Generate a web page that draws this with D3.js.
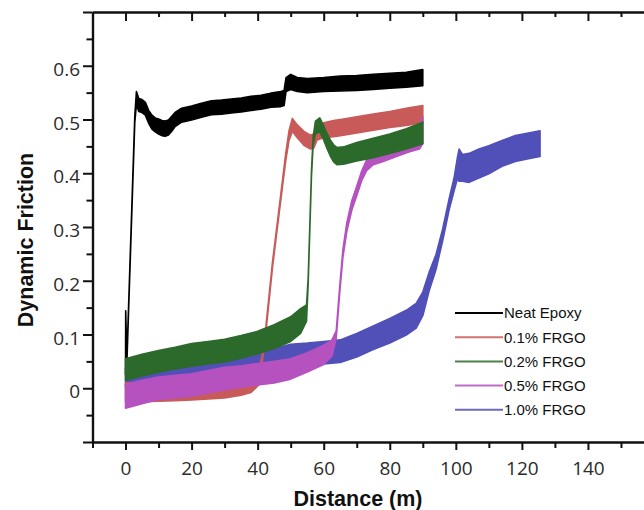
<!DOCTYPE html>
<html>
<head>
<meta charset="utf-8">
<script src="https://cdn.jsdelivr.net/npm/d3@7/dist/d3.min.js"></script>
<style>
  html, body { margin: 0; padding: 0; background: #ffffff; }
  svg { display: block; }
</style>
</head>
<body>
<svg id="chart" width="644" height="510"></svg>
<script>
// Dynamic friction vs sliding distance for neat epoxy and FRGO composites.
// Each trace is stored as distance, mean friction and the half-width of its noise band.

const seriesNames = ["Neat Epoxy", "0.1% FRGO", "0.2% FRGO", "0.5% FRGO", "1.0% FRGO"];

const neatDistance = [0, 0.05, 0.4, 2.8, 3.3, 4, 5, 6, 7, 8, 9, 10, 11, 12, 13, 14, 15, 17, 20, 23, 26, 29, 32, 35, 38, 41, 44, 47, 48, 48.6, 50, 52, 55, 60, 65, 70, 75, 80, 85, 90];
const neatFriction = [0.03, 0.14, 0.05, 0.50, 0.54, 0.527, 0.525, 0.52, 0.505, 0.495, 0.49, 0.487, 0.484, 0.483, 0.485, 0.492, 0.50, 0.508, 0.512, 0.517, 0.522, 0.523, 0.525, 0.527, 0.53, 0.532, 0.536, 0.538, 0.54, 0.565, 0.57, 0.565, 0.563, 0.565, 0.567, 0.568, 0.57, 0.572, 0.574, 0.578];
const neatSpread   = [0.004, 0.004, 0.004, 0.006, 0.012, 0.012, 0.012, 0.012, 0.012, 0.013, 0.013, 0.014, 0.014, 0.014, 0.014, 0.014, 0.013, 0.013, 0.013, 0.013, 0.013, 0.013, 0.013, 0.013, 0.013, 0.013, 0.013, 0.014, 0.014, 0.013, 0.014, 0.013, 0.013, 0.013, 0.014, 0.014, 0.014, 0.014, 0.014, 0.015];

const frgo01Distance = [0, 5, 10, 15, 20, 25, 30, 35, 38, 40.5, 41.5, 42.5, 43.5, 44.5, 45.5, 46.5, 47.5, 48.5, 49.5, 50.5, 52, 54, 56, 57, 58, 60, 63, 66, 70, 75, 80, 85, 90];
const frgo01Friction = [-0.008, -0.007, -0.006, -0.005, -0.004, -0.002, 0.0, 0.005, 0.01, 0.022, 0.06, 0.11, 0.17, 0.23, 0.28, 0.33, 0.38, 0.43, 0.47, 0.49, 0.478, 0.465, 0.458, 0.46, 0.475, 0.48, 0.483, 0.486, 0.49, 0.495, 0.50, 0.505, 0.51];
const frgo01Spread   = [0.018, 0.018, 0.018, 0.018, 0.018, 0.018, 0.018, 0.018, 0.018, 0.015, 0.006, 0.005, 0.005, 0.005, 0.005, 0.005, 0.006, 0.007, 0.009, 0.012, 0.012, 0.013, 0.013, 0.013, 0.013, 0.014, 0.015, 0.015, 0.015, 0.015, 0.015, 0.016, 0.016];

const frgo02Distance = [0, 5, 10, 15, 20, 25, 30, 35, 40, 45, 50, 53, 54.8, 55.3, 55.8, 56.3, 56.8, 57.5, 58.8, 60, 61, 62, 63, 64, 66, 70, 75, 80, 85, 90];
const frgo02Friction = [0.035, 0.043, 0.05, 0.056, 0.062, 0.066, 0.07, 0.077, 0.085, 0.096, 0.11, 0.125, 0.14, 0.2, 0.3, 0.4, 0.46, 0.485, 0.49, 0.475, 0.46, 0.447, 0.437, 0.432, 0.433, 0.44, 0.447, 0.455, 0.464, 0.475];
const frgo02Spread   = [0.02, 0.02, 0.02, 0.02, 0.021, 0.021, 0.021, 0.021, 0.021, 0.022, 0.023, 0.023, 0.015, 0.005, 0.004, 0.005, 0.007, 0.012, 0.013, 0.013, 0.014, 0.015, 0.016, 0.016, 0.016, 0.017, 0.018, 0.018, 0.019, 0.02];

const frgo05Distance = [0, 5, 10, 15, 20, 25, 30, 35, 40, 45, 50, 55, 60, 62.5, 63.8, 64.8, 65.8, 67, 68.5, 70, 71.5, 73, 75, 78, 82, 86, 89, 90];
const frgo05Friction = [-0.015, -0.007, 0.0, 0.003, 0.006, 0.012, 0.018, 0.022, 0.026, 0.03, 0.036, 0.048, 0.062, 0.075, 0.1, 0.18, 0.25, 0.30, 0.34, 0.367, 0.395, 0.415, 0.428, 0.435, 0.445, 0.455, 0.465, 0.48];
const frgo05Spread   = [0.022, 0.022, 0.021, 0.021, 0.021, 0.021, 0.021, 0.02, 0.02, 0.02, 0.019, 0.018, 0.018, 0.015, 0.007, 0.006, 0.007, 0.008, 0.009, 0.009, 0.009, 0.01, 0.012, 0.013, 0.014, 0.015, 0.02, 0.025];

const frgo10Distance = [0, 5, 10, 15, 20, 25, 30, 35, 40, 45, 50, 55, 60, 65, 70, 75, 80, 85, 88, 90, 92, 94, 96, 98, 99.5, 100.5, 101, 102, 104, 107, 110, 114, 118, 122, 125.5];
const frgo10Friction = [0.02, 0.023, 0.026, 0.029, 0.032, 0.036, 0.04, 0.045, 0.05, 0.055, 0.062, 0.064, 0.066, 0.069, 0.08, 0.094, 0.107, 0.122, 0.135, 0.157, 0.2, 0.235, 0.285, 0.343, 0.38, 0.41, 0.415, 0.41, 0.41, 0.418, 0.425, 0.437, 0.446, 0.451, 0.455];
const frgo10Spread   = [0.017, 0.017, 0.017, 0.017, 0.017, 0.018, 0.018, 0.018, 0.018, 0.019, 0.02, 0.02, 0.021, 0.021, 0.022, 0.022, 0.023, 0.023, 0.023, 0.022, 0.017, 0.014, 0.011, 0.01, 0.012, 0.02, 0.03, 0.025, 0.027, 0.027, 0.026, 0.024, 0.024, 0.024, 0.024];

// Axis ticks and their labels
const xMajorTicks = [0, 20, 40, 60, 80, 100, 120, 140, 160];
const xMinorTicks = [-10, 10, 30, 50, 70, 90, 110, 130, 150];
const xTickLabels = ["0", "20", "40", "60", "80", "100", "120", "140", ""];
const yMajorTicks = [-0.1, 0, 0.1, 0.2, 0.3, 0.4, 0.5, 0.6, 0.7];
const yMinorTicks = [-0.05, 0.05, 0.15, 0.25, 0.35, 0.45, 0.55, 0.65];
const yTickLabels = ["", "0", "0.1", "0.2", "0.3", "0.4", "0.5", "0.6", ""];

const colors = ["#000000", "#c85a5a", "#2c6a2c", "#b552c0", "#5050b8"];

const traces = [
  { name: seriesNames[0], color: colors[0], xs: neatDistance, ys: neatFriction, ss: neatSpread },
  { name: seriesNames[1], color: colors[1], xs: frgo01Distance, ys: frgo01Friction, ss: frgo01Spread },
  { name: seriesNames[2], color: colors[2], xs: frgo02Distance, ys: frgo02Friction, ss: frgo02Spread },
  { name: seriesNames[3], color: colors[3], xs: frgo05Distance, ys: frgo05Friction, ss: frgo05Spread },
  { name: seriesNames[4], color: colors[4], xs: frgo10Distance, ys: frgo10Friction, ss: frgo10Spread }
].map(t => ({ ...t, points: t.xs.map((x, i) => ({ x, y: t.ys[i], s: t.ss[i] })) }));

// Stacking order of the traces (back to front)
const drawOrder = [0, 4, 1, 3, 2];

const svg = d3.select("#chart");
const plot = { left: 92.5, right: 654, top: 12, bottom: 442 };

const x = d3.scaleLinear().domain([-10, 160]).range([plot.left, plot.right]);
const y = d3.scaleLinear().domain([-0.1, 0.7]).range([plot.bottom, plot.top]);

const clip = svg.append("defs").append("clipPath").attr("id", "plotClip")
  .append("rect")
  .attr("x", plot.left).attr("y", plot.top)
  .attr("width", plot.right - plot.left).attr("height", plot.bottom - plot.top);

// Noise bands
const band = d3.area()
  .x(d => x(d.x))
  .y0(d => y(d.y - d.s))
  .y1(d => y(d.y + d.s));

const series = svg.append("g").attr("clip-path", "url(#plotClip)");
drawOrder.forEach(i => {
  const t = traces[i];
  series.append("path")
    .datum(t.points)
    .attr("d", band)
    .attr("fill", t.color)
    .attr("stroke", t.color)
    .attr("stroke-width", 1.6)
    .attr("stroke-linejoin", "round");
});

// Axes
const tickFont = "'Open Sans', 'DejaVu Sans', sans-serif";

function styleAxis(g) {
  g.selectAll(".domain").attr("stroke", "#111").attr("stroke-width", 2.2);
  g.selectAll(".tick line").attr("stroke", "#111").attr("stroke-width", 2);
  g.selectAll(".tick text")
    .attr("fill", "#2b2b2b")
    .style("font-family", tickFont)
    .style("font-size", "19px");
}

// bottom
svg.append("g")
  .attr("transform", `translate(0,${plot.bottom})`)
  .call(d3.axisBottom(x).tickValues(xMinorTicks).tickSize(6).tickSizeOuter(0).tickFormat(""))
  .call(styleAxis);
svg.append("g")
  .attr("transform", `translate(0,${plot.bottom})`)
  .call(d3.axisBottom(x).tickValues(xMajorTicks).tickSize(8).tickSizeOuter(0)
    .tickPadding(12).tickFormat((d, i) => xTickLabels[i]))
  .call(styleAxis);

// top (ticks pointing inward)
svg.append("g")
  .attr("transform", `translate(0,${plot.top})`)
  .call(d3.axisBottom(x).tickValues(xMinorTicks.filter(v => v > -10)).tickSize(5).tickSizeOuter(0).tickFormat(""))
  .call(styleAxis);
svg.append("g")
  .attr("transform", `translate(0,${plot.top})`)
  .call(d3.axisBottom(x).tickValues(xMajorTicks).tickSize(9).tickSizeOuter(0).tickFormat(""))
  .call(styleAxis);

// left
svg.append("g")
  .attr("transform", `translate(${plot.left},0)`)
  .call(d3.axisLeft(y).tickValues(yMinorTicks).tickSize(6).tickSizeOuter(0).tickFormat(""))
  .call(styleAxis);
svg.append("g")
  .attr("transform", `translate(${plot.left},0)`)
  .call(d3.axisLeft(y).tickValues(yMajorTicks).tickSize(9.5).tickSizeOuter(0)
    .tickPadding(3).tickFormat((d, i) => yTickLabels[i]))
  .call(styleAxis)
  .selectAll(".tick text").attr("dy", "0.5em");

// right edge
svg.append("g")
  .attr("transform", `translate(${plot.right},0)`)
  .call(d3.axisRight(y).tickValues([]).tickSizeOuter(0))
  .call(styleAxis);

// Axis titles
svg.append("text")
  .attr("x", 358).attr("y", 506)
  .attr("text-anchor", "middle")
  .style("font-family", "'Liberation Sans', Arial, sans-serif")
  .style("font-weight", "bold")
  .style("font-size", "21.5px")
  .attr("fill", "#111")
  .text("Distance (m)");

svg.append("text")
  .attr("transform", "translate(33,240) rotate(-90)")
  .attr("text-anchor", "middle")
  .style("font-family", "'Liberation Sans', Arial, sans-serif")
  .style("font-weight", "bold")
  .style("font-size", "21.5px")
  .attr("fill", "#111")
  .text("Dynamic Friction");

// Legend
const legend = svg.append("g").attr("transform", "translate(455,313)");
traces.forEach((t, i) => {
  const row = legend.append("g").attr("transform", `translate(0,${i * 24.2})`);
  row.append("line")
    .attr("x1", 0).attr("x2", 48).attr("y1", 0).attr("y2", 0)
    .attr("stroke", t.color).attr("stroke-width", 2).attr("stroke-opacity", i === 0 ? 1 : 0.85);
  row.append("text")
    .attr("x", 49).attr("y", 5.3)
    .style("font-family", "'Liberation Sans', Arial, sans-serif")
    .style("font-size", "15px")
    .attr("fill", "#111")
    .text(t.name);
});
</script>
</body>
</html>
